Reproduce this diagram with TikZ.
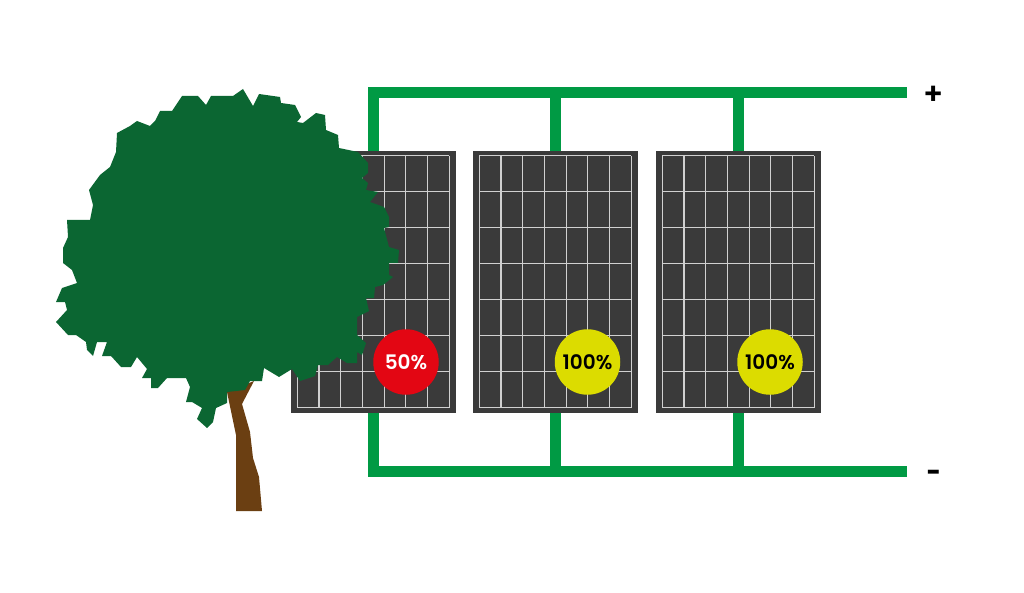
\documentclass[tikz,border=0pt]{standalone}
\usepackage{fontspec}
\setmainfont{Poppins}[BoldFont=* SemiBold]
\newfontfamily\heavyfont{Poppins ExtraBold}
\definecolor{treegreen}{HTML}{0B6632}
\definecolor{trunkbrown}{HTML}{6B3F12}
\definecolor{wiregreen}{HTML}{009A44}
\definecolor{paneldark}{HTML}{3A3A3A}
\definecolor{celltint}{HTML}{D0D0D0}
\definecolor{lowred}{HTML}{E30613}
\definecolor{fullyellow}{HTML}{DCDC00}
\tikzset{
	wire/.style={draw=wiregreen,line width=11.5pt,line cap=butt,line join=miter},
	panel/.style={fill=paneldark,inner sep=0pt,minimum width=165pt,minimum height=262pt},
	cellline/.style={draw=celltint,line width=1.2pt},
	badge/.style={circle,inner sep=0pt,minimum size=65.5pt,font=\fontsize{20}{20}\selectfont\bfseries},
	polarity/.style={inner sep=0pt,font=\fontsize{30}{30}\selectfont\bfseries}
}
\begin{document}
\begin{tikzpicture}[x=1pt,y=-1pt]
		\useasboundingbox (0,0) rectangle (1024,593);
		\node[panel] (panelA) at (373.5,282) {};
		\node[panel] (panelB) at (555.5,282) {};
		\node[panel] (panelC) at (738.5,282) {};
		\coordinate (plusend) at (907,92.5);
		\coordinate (minusend) at (907,471.5);
		% bus bars, behind the panels
		\draw[wire] (panelA.north) |- (plusend);
		\draw[wire] (panelB.north) -- (panelB.north |- plusend);
		\draw[wire] (panelC.north) -- (panelC.north |- plusend);
		\draw[wire] (panelA.south) |- (minusend);
		\draw[wire] (panelB.south) -- (panelB.south |- minusend);
		\draw[wire] (panelC.south) -- (panelC.south |- minusend);
		\node[polarity] (plus) at (934,95) {+};
		\node[polarity,font=\fontsize{24}{24}\selectfont\heavyfont] (minus) at (934,475) {-};
		% cells
		\foreach \p in {panelA,panelB,panelC}{
			\begin{scope}[shift={(\p.north west)}]
				\foreach \i in {0,...,7}
					\draw[cellline] ({6.5+\i*21.7},5) -- ({6.5+\i*21.7},257);
				\foreach \j in {0,...,7}
					\draw[cellline] (6.5,{5+\j*36}) -- (158.4,{5+\j*36});
			\end{scope}
		}
		% trunk
		\fill[trunkbrown] (227,392) -- (254,381) -- (242,404) -- (250,432) -- (253,458) -- (259,477) -- (262,511) -- (236,511) -- (236,435) -- cycle;
		% crown
		\fill[treegreen] (243,89) -- (233,96) -- (211,96) -- (206,105) -- (198,96) -- (182,96) -- (172,111) -- (160,111) -- (155,121) -- (150,126) -- (137,121) -- (130,126) -- (117,133) -- (116,152) -- (110,167) -- (100,175) -- (89,190) -- (93,205) -- (90,220) -- (67,220) -- (68,237) -- (63,248) -- (63,263) -- (72,270) -- (77,283) -- (62,288) -- (56,302) -- (65,302) -- (67,310) -- (56,322) -- (68,335) -- (76,335) -- (86,342) -- (87,350) -- (93,356) -- (97,342) -- (107,342) -- (102,356) -- (111,356) -- (121,367) -- (131,367) -- (137,357) -- (147,369) -- (142,378) -- (151,378) -- (151,388) -- (158,388) -- (167,378) -- (186,378) -- (190,387) -- (186,402) -- (192,402) -- (202,408) -- (197,419) -- (207,428) -- (213,422) -- (216,408) -- (227,403) -- (227,392) -- (245,390) -- (250,381) -- (262,381) -- (264,368) -- (279,377) -- (292,369) -- (300,381) -- (315,376) -- (318,365) -- (328,365) -- (337,357) -- (347,363) -- (357,363) -- (357,352) -- (362,355) -- (366,343) -- (357,335) -- (357,317) -- (369,311) -- (366,298) -- (374,298) -- (375,287) -- (383,285) -- (393,277) -- (389,275) -- (389,263) -- (398,263) -- (399,250) -- (389,247) -- (384,228) -- (389,227) -- (389,217) -- (384,207) -- (370,202) -- (378,192) -- (366,190) -- (368,183) -- (362,178) -- (368,173) -- (368,163) -- (358,152) -- (339,148) -- (338,135) -- (326,130) -- (325,115) -- (316,113) -- (303,123) -- (297,122) -- (301,117) -- (295,105) -- (281,103) -- (280,97) -- (259,94) -- (253,106) -- cycle;
		% output of each panel
		\node[badge,fill=lowred,text=white] (lossA) at (406,362) {50\%};
		\node[badge,fill=fullyellow] (lossB) at (587.5,362) {100\%};
		\node[badge,fill=fullyellow] (lossC) at (770,362) {100\%};
\end{tikzpicture}
\end{document}
